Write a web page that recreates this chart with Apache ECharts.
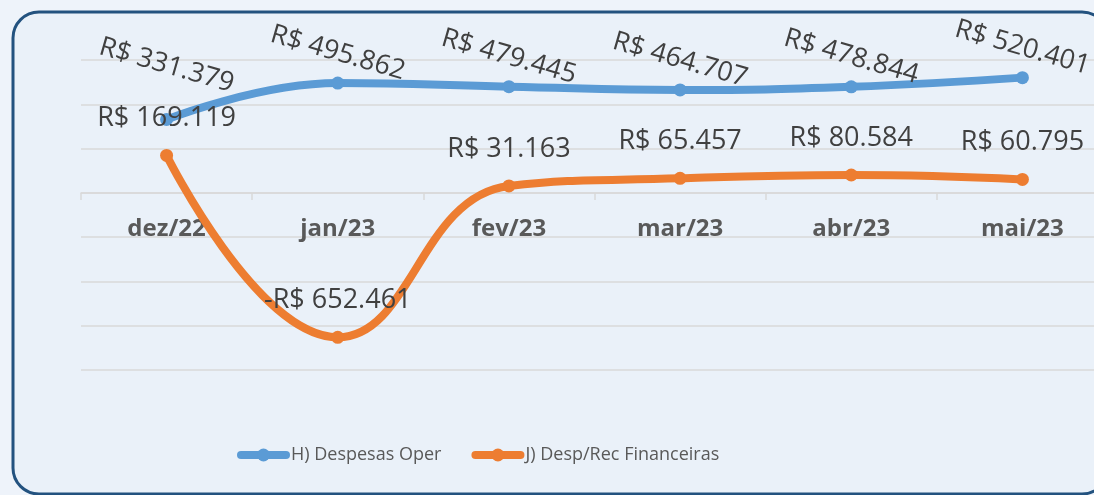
<!DOCTYPE html>
<html lang="pt">
<head>
    <meta charset="UTF-8">
    <title>Despesas</title>
    <script src="https://cdn.jsdelivr.net/npm/echarts@6/dist/echarts.min.js"></script>
    <style>
        html,
        body {
            margin: 0;
            height: 100%;
            background: #eef3fa;
        }
        #main {
            width: 1094px;
            height: 495px;
        }
    </style>
</head>
<body>
    <div id="main"></div>
    <script type="text/javascript">
        const months = ['dez/22', 'jan/23', 'fev/23', 'mar/23', 'abr/23', 'mai/23'];
        const despOper = [331379, 495862, 479445, 464707, 478844, 520401];
        const despFin = [169119, -652461, 31163, 65457, 80584, 60795];

        const FONT = '"Open Sans", "DejaVu Sans", sans-serif';
        const ROT = 16;

        // R$ 1.234 style, minus sign before the currency
        const brl = v => {
            const s = Math.abs(v).toString().replace(/\B(?=(\d{3})+(?!\d))/g, '.');
            return (v < 0 ? '-' : '') + 'R$ ' + s;
        };
        // offset gets rotated with the label, so undo that to go straight up
        const upOffset = d => {
            const a = ROT * Math.PI / 180;
            return [-d * Math.sin(a), -d * Math.cos(a)];
        };

        const myChart = echarts.init(document.getElementById('main'));

        myChart.setOption({
            backgroundColor: 'transparent',
            animation: false,
            graphic: [{
                type: 'rect',
                z: -10,
                shape: { x: 13, y: 12, width: 1095, height: 482, r: 26 },
                style: { fill: '#eaf1f9', stroke: '#23527f', lineWidth: 3 }
            }],
            grid: { left: 81, width: 1027, top: 60, bottom: 125, outerBoundsMode: 'none' },
            legend: {
                left: 232,
                top: 441,
                itemWidth: 45,
                itemHeight: 16,
                itemGap: 30,
                lineStyle: { width: 8, cap: 'round' },
                textStyle: { fontFamily: FONT, fontSize: 18, color: '#595959' },
                data: ['H) Despesas Oper', 'J) Desp/Rec Financeiras']
            },
            xAxis: {
                type: 'category',
                data: months,
                boundaryGap: true,
                position: 'bottom',
                offset: -177,
                axisLine: { onZero: false, lineStyle: { color: '#d9d9d9', width: 1.5 } },
                axisTick: { show: true, length: 7, lineStyle: { color: '#d9d9d9', width: 1.5 } },
                axisLabel: {
                    margin: 24,
                    fontFamily: FONT,
                    fontSize: 24,
                    fontWeight: 'bold',
                    color: '#595959'
                }
            },
            yAxis: {
                type: 'value',
                min: -800000,
                max: 600000,
                interval: 200000,
                axisLabel: { show: false },
                axisLine: { show: false },
                axisTick: { show: false },
                splitLine: { lineStyle: { color: '#d9d9d9', width: 1.5 } }
            },
            series: [{
                name: 'H) Despesas Oper',
                type: 'line',
                smooth: 0.45,
                symbol: 'circle',
                symbolSize: 13,
                color: '#5b9bd5',
                lineStyle: { width: 8, cap: 'round' },
                data: despOper.map((v, i) => ({
                    value: v,
                    label: { offset: upOffset(i === 0 ? 54 : 30) }
                })),
                label: {
                    show: true,
                    position: 'inside',
                    align: 'center',
                    verticalAlign: 'middle',
                    rotate: -ROT,
                    fontFamily: FONT,
                    fontSize: 27,
                    color: '#404040',
                    formatter: p => brl(p.value)
                }
            }, {
                name: 'J) Desp/Rec Financeiras',
                type: 'line',
                smooth: 0.45,
                symbol: 'circle',
                symbolSize: 13,
                color: '#ed7d31',
                lineStyle: { width: 8, cap: 'round' },
                data: despFin,
                label: {
                    show: true,
                    position: 'inside',
                    align: 'center',
                    verticalAlign: 'middle',
                    offset: [0, -37],
                    fontFamily: FONT,
                    fontSize: 27,
                    color: '#404040',
                    formatter: p => brl(p.value)
                }
            }]
        });
    </script>
</body>
</html>
